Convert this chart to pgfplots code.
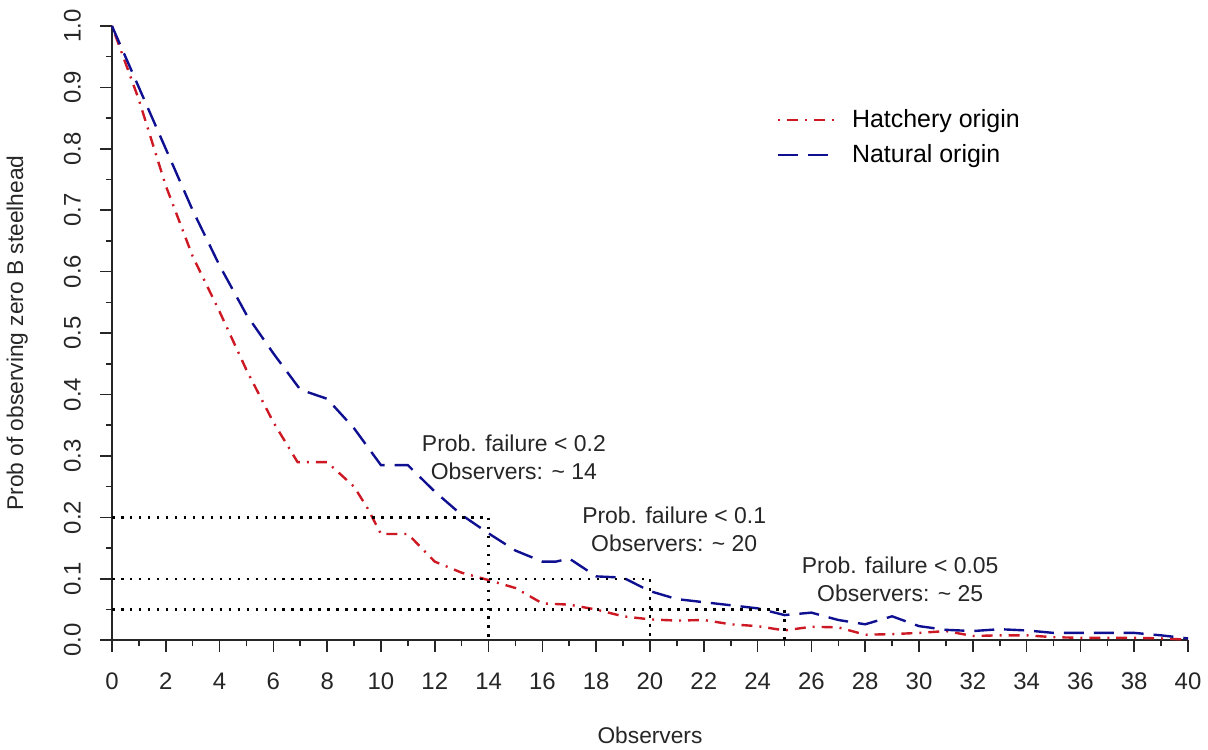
\documentclass[border=0pt]{standalone}
\usepackage{fontspec}
\setmainfont{Liberation Sans}
\usepackage{pgfplots}
\pgfplotsset{compat=1.18}
\definecolor{hatch}{RGB}{205,25,35}
\definecolor{natur}{RGB}{15,15,145}
\begin{document}
\begin{tikzpicture}
\begin{axis}[
  scale only axis, width=539.5pt, height=308pt,
  xmin=0, xmax=40, ymin=0, ymax=1,
  axis x line*=bottom, axis y line*=left,
  axis line style={line width=0.8pt, black!85},
  tick align=outside, major tick length=6pt, minor tick length=3pt,
  every tick/.style={black!85, line width=0.8pt},
  xtick={0,2,...,40}, minor x tick num=1,
  ytick={0,0.1,0.2,0.3,0.4,0.5,0.6,0.7,0.8,0.9,1},
  minor y tick num=1,
  /pgf/number format/assume math mode=true,
  xticklabel shift=7pt, yticklabel shift=6pt,
  yticklabel style={rotate=90, anchor=south, /pgf/number format/.cd, fixed, fixed zerofill, precision=1},
  tick label style={font=\fontsize{12}{14}\selectfont, text=black!85},
  xlabel={Observers}, ylabel={Prob of observing zero B steelhead},
  label style={font=\fontsize{11.4}{14}\selectfont, text=black!85},
  xlabel style={at={(axis description cs:0.5,-0.154)}, anchor=center},
  ylabel style={at={(axis description cs:-0.088,0.5)}, anchor=center},
  clip=false,
  legend style={at={(0.612,0.878)}, anchor=north west, draw=none, fill=none,
    font=\fontsize{12.5}{14}\selectfont, row sep=3pt,
    nodes={inner xsep=6.5pt}},
  legend cell align=left,
  legend image code/.code={\draw[#1] (0pt,0pt) -- (30pt,0pt);},
  refline/.style={black, line width=1.3pt, dash pattern=on 1.3pt off 3.2pt},
]
\addplot[hatch, line width=1.2pt, dash pattern=on 1pt off 3.5pt on 5.5pt off 3.5pt] coordinates {
(0,1.0) (1,0.88) (2,0.74) (3,0.625) (4,0.535) (5,0.44) (6,0.355) (6.9,0.29)
(7,0.29) (8,0.29) (9,0.25) (9.5,0.215) (10,0.173) (11,0.173) (12,0.128)
(13,0.11) (14,0.098) (15,0.085) (16,0.06) (17,0.058) (18,0.05) (19,0.039)
(20,0.034) (21,0.032) (22,0.033) (23,0.026) (24,0.023) (25,0.016) (26,0.022)
(27,0.021) (28,0.009) (29,0.01) (30,0.012) (31,0.015) (32,0.007) (33,0.008)
(34,0.008) (35,0.005) (36,0.004) (37,0.004) (38,0.004) (39,0.003) (40,0.001)
};
\addlegendentry{Hatchery origin}
\addplot[natur, line width=1.2pt, dash pattern=on 10pt off 5pt] coordinates {
(0,1.0) (1,0.90) (2,0.80) (3,0.70) (4,0.61) (5,0.53) (6,0.467) (7,0.408)
(8,0.393) (9,0.345) (10,0.285) (11,0.285) (12,0.242) (13,0.204) (14,0.174)
(15,0.146) (16,0.128) (16.5,0.128) (17,0.133) (18,0.104) (19,0.102) (20,0.08)
(21,0.067) (22,0.062) (23,0.057) (24,0.052) (25,0.041) (26,0.045) (27,0.033)
(28,0.026) (29,0.039) (30,0.023) (31,0.017) (32,0.015) (33,0.018) (34,0.016)
(35,0.012) (36,0.012) (37,0.012) (38,0.012) (39,0.008) (40,0.003)
};
\addlegendentry{Natural origin}
\addplot[refline, forget plot] coordinates {(0,0.2) (14,0.2) (14,0)};
\addplot[refline, forget plot] coordinates {(0,0.1) (20,0.1) (20,0)};
\addplot[refline, forget plot] coordinates {(0,0.05) (25,0.05) (25,0)};
\node[align=center, font=\fontsize{11.5}{14}\selectfont, text=black!85] at (axis cs:14.94,0.2976) {Prob. failure < 0.2\\Observers: \textasciitilde\ 14};
\node[align=center, font=\fontsize{11.5}{14}\selectfont, text=black!85] at (axis cs:20.9,0.180) {Prob. failure < 0.1\\Observers: \textasciitilde\ 20};
\node[align=center, font=\fontsize{11.5}{14}\selectfont, text=black!85] at (axis cs:29.3,0.099) {Prob. failure < 0.05\\Observers: \textasciitilde\ 25};
\path (rel axis cs:-0.1038,-0.1786) rectangle (rel axis cs:1.0158,1.0422);
\end{axis}
\end{tikzpicture}
\end{document}
